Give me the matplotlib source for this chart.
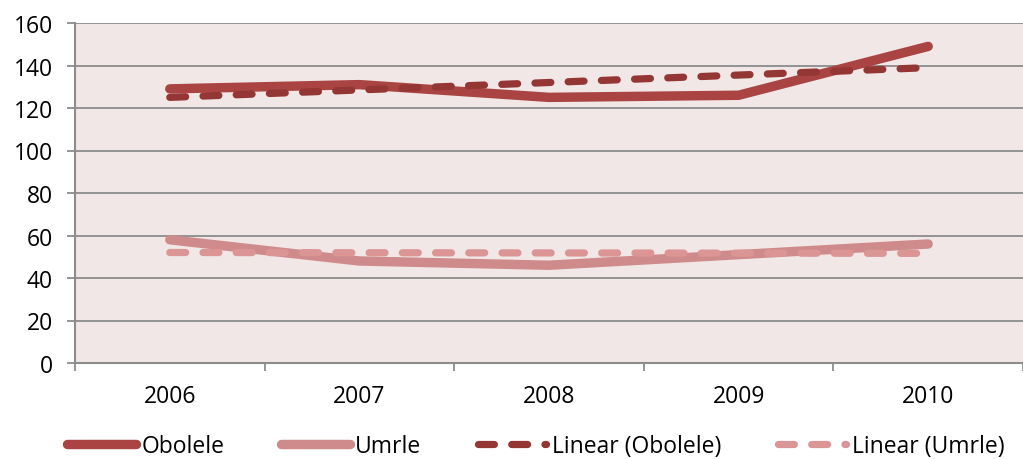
import numpy as np
import matplotlib.pyplot as plt

years = ['2006', '2007', '2008', '2009', '2010']
obolele = [129, 131, 125, 126, 149]
umrle = [58, 48, 46, 51, 56]

plt.rcParams['font.family'] = ['Open Sans', 'DejaVu Sans']

x = np.arange(1, len(years) + 1)
fit_ob = np.polyval(np.polyfit(x, obolele, 1), x)
fit_um = np.polyval(np.polyfit(x, umrle, 1), x)

fig = plt.figure(figsize=(10.23, 4.60), dpi=100)
ax = fig.add_axes([75 / 1023, 96 / 460, 948 / 1023, 340 / 460])
ax.set_facecolor('#F2E7E7')

ax.plot(x, obolele, color='#A94442', lw=6.8, solid_capstyle='round',
        solid_joinstyle='round', label='Obolele', zorder=3)
ax.plot(x, umrle, color='#CF8B8B', lw=6.8, solid_capstyle='round',
        solid_joinstyle='round', label='Umrle', zorder=3)
ax.plot(x, fit_ob, color='#943634', lw=5.2, dashes=(2.2, 2.4),
        dash_capstyle='round', label='Linear (Obolele)', zorder=4)
ax.plot(x, fit_um, color='#DA9594', lw=5.2, dashes=(2.2, 2.4),
        dash_capstyle='round', label='Linear (Umrle)', zorder=4)

ax.set_xlim(0.5, 0.5 + 948 / 192.5)
ax.set_ylim(0, 160)
ax.set_yticks(range(0, 161, 20))
ax.yaxis.grid(True, color='#8C8C8C', lw=1.3)
ax.set_axisbelow(True)

ax.set_xticks(x)
ax.set_xticklabels(years)
ax.set_xticks(np.arange(0.5, 6, 1), minor=True)
ax.tick_params(axis='x', which='major', length=0, pad=15, labelsize=16.5)
ax.tick_params(axis='x', which='minor', length=6, width=1.3, color='#8C8C8C')
ax.tick_params(axis='y', length=6, width=1.3, color='#8C8C8C', labelsize=16.5, pad=10)

for s in ['top', 'right']:
    ax.spines[s].set_visible(False)
for s in ['left', 'bottom']:
    ax.spines[s].set_color('#8C8C8C')
    ax.spines[s].set_linewidth(1.5)

fig.legend(loc='center', bbox_to_anchor=(536 / 1023, 1 - 447 / 460), ncol=4,
           frameon=False, fontsize=16.5, handlelength=3.0, handletextpad=0.25,
           columnspacing=2.45)

fig.savefig('out.png', dpi=100)
